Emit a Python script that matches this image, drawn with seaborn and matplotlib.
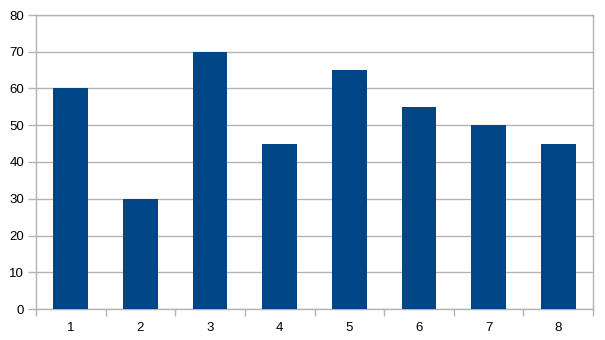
import matplotlib
matplotlib.use("Agg")
import matplotlib.pyplot as plt
import seaborn as sns
import pandas as pd
import numpy as np

categories = ["1", "2", "3", "4", "5", "6", "7", "8"]
values = [60, 30, 70, 45, 65, 55, 50, 45]

df = pd.DataFrame({"cat": categories, "val": values})

sns.set_theme(style="white")
plt.rcParams['font.family'] = ['Liberation Sans', 'DejaVu Sans']

fig = plt.figure(figsize=(6.05, 3.4), dpi=100)
ax = fig.add_axes([36/605, 1 - 309/340, (593 - 36)/605, (309 - 15)/340])

sns.barplot(data=df, x="cat", y="val", color="#004586", width=0.5, ax=ax,
            saturation=1, edgecolor="none", zorder=3)

ax.set_ylim(0, 80)
ax.set_yticks(range(0, 81, 10))
ax.set_xlim(-0.5, len(categories) - 0.5)
ax.set_xlabel("")
ax.set_ylabel("")

grid_c = "#b3b3b3"
ax.yaxis.grid(True, color=grid_c, linewidth=1, zorder=0)
ax.set_axisbelow(True)
for s in ax.spines.values():
    s.set_color(grid_c)
    s.set_linewidth(1)

ax.tick_params(axis="y", length=6, width=1, color=grid_c, labelsize=9.5,
               labelcolor="#000000", pad=2.5, left=True)
ax.tick_params(axis="x", which="major", length=0, labelsize=9.5,
               labelcolor="#000000", pad=9.5)
ax.set_xticks(np.arange(-0.5, len(categories), 1.0), minor=True)
ax.tick_params(axis="x", which="minor", length=5, width=1, color=grid_c, bottom=True)

fig.savefig("out.png", dpi=100)
